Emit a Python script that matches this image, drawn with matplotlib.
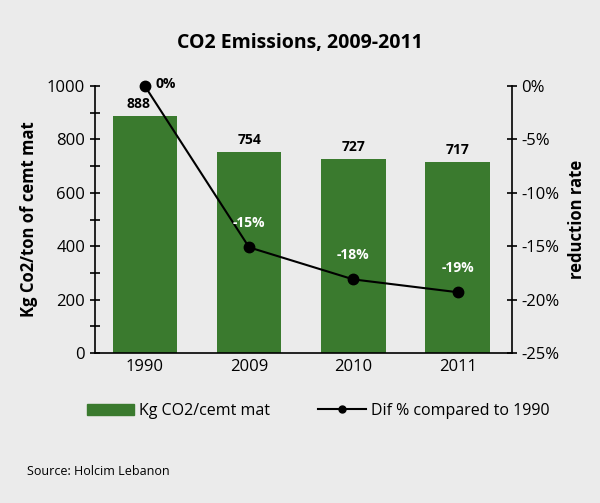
import numpy as np
import matplotlib.pyplot as plt
from matplotlib.lines import Line2D
from matplotlib.patches import Patch

plt.rcParams['font.family'] = ['Open Sans', 'DejaVu Sans']

years = ['1990', '2009', '2010', '2011']
emissions = [888, 754, 727, 717]
dif_pct = [0.0, -15.1, -18.1, -19.3]
dif_labels = ['0%', '-15%', '-18%', '-19%']
left_ticks = [0, 200, 400, 600, 800, 1000]
right_ticks = [0, -5, -10, -15, -20, -25]

bg = '#ebebeb'
green = '#3a7a2e'

fig = plt.figure(figsize=(6, 5.03), dpi=100, facecolor=bg)
ax = fig.add_axes([0.158, 0.298, 0.695, 0.531], facecolor=bg)
x = np.arange(len(years))

ax.bar(x, emissions, width=0.62, color=green, zorder=2)
for i, (xi, v) in enumerate(zip(x, emissions)):
    dx = -0.06 if i == 0 else 0
    ax.text(xi + dx, v + 18, str(v), ha='center', va='bottom', fontsize=10, fontweight='bold')

ax.set_xlim(-0.48, 3.52)
ax.set_ylim(0, 1000)
ax.set_yticks(left_ticks)
ax.set_yticks(np.arange(0, 1001, 100), minor=True)
ax.set_xticks(x)
ax.set_xticklabels(years, fontsize=12)
ax.tick_params(axis='x', length=0, pad=4)
ax.tick_params(axis='y', which='both', direction='inout', length=7, width=1.2, labelsize=12)
ax.spines['top'].set_visible(False)
ax.spines['right'].set_visible(False)
for s in ['left', 'bottom']:
    ax.spines[s].set_linewidth(1.2)
ax.set_ylabel('Kg Co2/ton of cemt mat', fontsize=12, fontweight='bold', labelpad=6)

ax2 = ax.twinx()
ax2.plot(x, dif_pct, color='black', lw=1.5, marker='o', markersize=7.5, zorder=3, clip_on=False)
ax2.set_ylim(-25, 0)
ax2.set_yticks(right_ticks)
ax2.set_yticklabels([f'{t}%' for t in right_ticks])
ax2.tick_params(axis='y', direction='inout', length=7, width=1.2, labelsize=12)
for s in ['top', 'left', 'bottom']:
    ax2.spines[s].set_visible(False)
ax2.spines['right'].set_linewidth(1.2)
ax2.set_ylabel('reduction rate', fontsize=12, fontweight='bold', labelpad=6)

ax2.text(x[0] + 0.1, dif_pct[0] + 0.15, dif_labels[0], ha='left', va='center', fontsize=10, fontweight='bold')
for xi, v, lab in zip(x[1:], dif_pct[1:], dif_labels[1:]):
    ax2.text(xi, v + 1.6, lab, ha='center', va='bottom', fontsize=10, fontweight='bold', color='white')

fig.suptitle('CO2 Emissions, 2009-2011', y=0.935, fontsize=14, fontweight='bold')

handles = [Patch(color=green, label='Kg CO2/cemt mat'),
           Line2D([0], [0], color='black', lw=1.5, marker='o', markersize=5, label='Dif % compared to 1990')]
fig.legend(handles=handles, loc='center', bbox_to_anchor=(0.53, 0.183), ncol=2, frameon=False,
           fontsize=11.5, handlelength=3, columnspacing=3, handletextpad=0.3)

fig.text(0.045, 0.055, 'Source: Holcim Lebanon', fontsize=9)

fig.savefig('out.png', dpi=100, facecolor=bg)
